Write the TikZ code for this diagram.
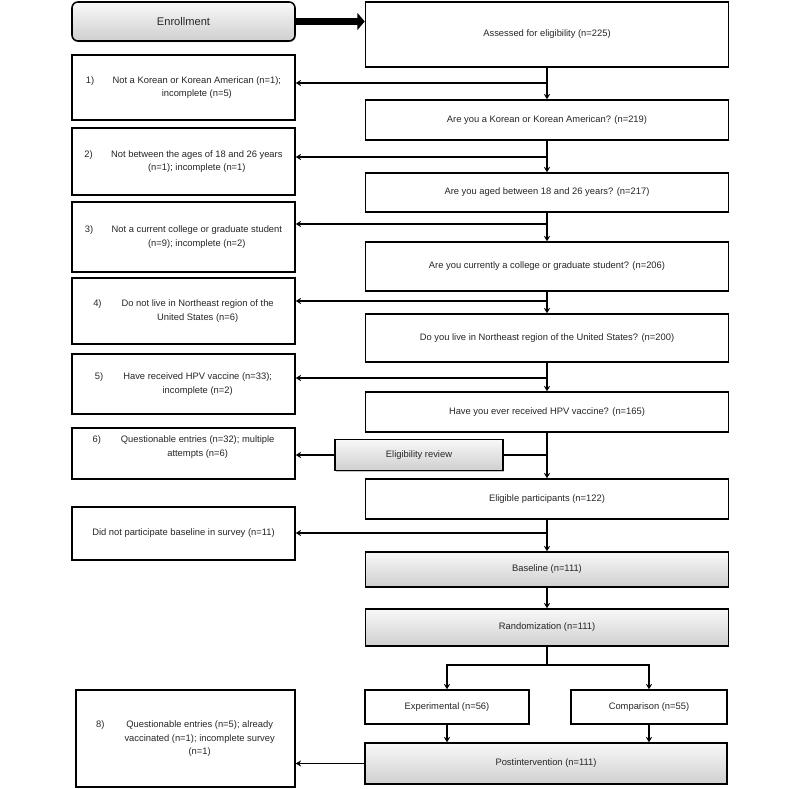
\documentclass[tikz,border=0pt]{standalone}
\usepackage{fontspec}
\setmainfont{Liberation Sans}
\usetikzlibrary{arrows.meta}
\usetikzlibrary{shadows}
\tikzset{>={Stealth[length=1.6mm,width=1.9mm]}}
\tikzset{
  box/.style={draw, line width=1.3pt, fill=white, align=center, inner sep=2pt,
    font=\fontsize{8}{11.5}\selectfont, text=black!85},
  mainbox/.style={box, minimum width=10.89cm},
  sidebox/.style={box, minimum width=6.69cm},
  graybox/.style={box, top color=gray!5, bottom color=gray!38,
    drop shadow={shadow xshift=0.7pt, shadow yshift=-1pt, opacity=0.45}},
  link/.style={line width=1.2pt, ->},
}

\begin{document}
\begin{tikzpicture}[x=0.03cm, y=-0.03cm]
    \useasboundingbox (0,0) rectangle (800,789);

    % right column
    \node[graybox, rounded corners=5pt, minimum width=6.69cm, minimum height=1.17cm,
      font=\fontsize{9.5}{11}\selectfont] (enroll) at (183.5,21.5) {Enrollment};
    \node[mainbox, minimum height=1.95cm] (assess) at (547,34.5) {Assessed for eligibility (n=225)};
    \node[mainbox, minimum height=1.2cm] (q1) at (547,120) {Are you a Korean or Korean American? (n=219)};
    \node[mainbox, minimum height=1.17cm] (q2) at (547,192.5) {Are you aged between 18 and 26 years? (n=217)};
    \node[mainbox, minimum height=1.47cm] (q3) at (547,266.5) {Are you currently a college or graduate student? (n=206)};
    \node[mainbox, minimum height=1.44cm] (q4) at (547,338) {Do you live in Northeast region of the United States? (n=200)};
    \node[mainbox, minimum height=1.2cm] (q5) at (547,412) {Have you ever received HPV vaccine? (n=165)};
    \node[mainbox, minimum height=1.2cm] (elig) at (547,499) {Eligible participants (n=122)};
    \node[graybox, minimum width=10.89cm, minimum height=1.05cm] (base) at (547,569.5) {Baseline (n=111)};
    \node[graybox, minimum width=10.89cm, minimum height=1.11cm] (rand) at (547,627.5) {Randomization (n=111)};
    \node[box, minimum width=4.92cm, minimum height=1.02cm] (exper) at (447,707) {Experimental (n=56)};
    \node[box, minimum width=4.68cm, minimum height=1.02cm] (comp) at (649,707) {Comparison (n=55)};
    \node[graybox, minimum width=10.86cm, minimum height=1.23cm] (post) at (546,763.5) {Postintervention (n=111)};
    \node[graybox, minimum width=5.04cm, minimum height=0.93cm] (review) at (419,455) {Eligibility review};

    % excluded
    \node[sidebox, minimum height=1.95cm] (ex1) at (183.5,87.5) {\begin{tabular}{@{}l@{\hspace{0.55cm}}c@{}}
      1) & Not a Korean or Korean American (n=1);\\ & incomplete (n=5)\end{tabular}};
    \node[sidebox, minimum height=2.01cm] (ex2) at (183.5,161.5) {\begin{tabular}{@{}l@{\hspace{0.55cm}}c@{}}
      2) & Not between the ages of 18 and 26 years\\ & (n=1); incomplete (n=1)\end{tabular}};
    \node[sidebox, minimum height=2.1cm] (ex3) at (183.5,237) {\begin{tabular}{@{}l@{\hspace{0.55cm}}c@{}}
      3) & Not a current college or graduate student\\ & (n=9); incomplete (n=2)\end{tabular}};
    \node[sidebox, minimum height=1.98cm] (ex4) at (183.5,311) {\begin{tabular}{@{}l@{\hspace{0.6cm}}c@{}}
      4) & Do not live in Northeast region of the\\ & United States (n=6)\end{tabular}};
    \node[sidebox, minimum height=1.8cm] (ex5) at (183.5,384) {\begin{tabular}{@{}l@{\hspace{0.6cm}}c@{}}
      5) & Have received HPV vaccine (n=33);\\ & incomplete (n=2)\end{tabular}};
    \node[sidebox, minimum height=1.53cm] (ex6) at (183.5,453.5) {\begin{tabular}{@{}l@{\hspace{0.6cm}}c@{}}
      6) & Questionable entries (n=32); multiple\\ & attempts (n=6)\\ & \end{tabular}};
    \node[sidebox, minimum height=1.59cm] (ex7) at (183.5,533.5) {Did not participate baseline in survey (n=11)};
    \node[sidebox, minimum width=6.57cm, minimum height=2.91cm] (ex8) at (185.5,738.5) {\begin{tabular}{@{}l@{\hspace{0.6cm}}c@{}}
      8) & Questionable entries (n=5); already\\ & vaccinated (n=1); incomplete survey\\ & (n=1)\end{tabular}};

    \draw[line width=6pt, -{Triangle[length=2.2mm,width=5mm]}] (enroll.east) -- (enroll.east -| assess.west);

    % main flow
    \draw[link] (assess) -- (q1);
    \draw[link] (q1) -- (q2);
    \draw[link] (q2) -- (q3);
    \draw[link] (q3) -- (q4);
    \draw[link] (q4) -- (q5);
    \draw[link] (q5) -- (elig);
    \draw[link] (elig) -- (base);
    \draw[link] (base) -- (rand);

    \coordinate (b1) at (547,83);
    \coordinate (b2) at (547,157);
    \coordinate (b3) at (547,224);
    \coordinate (b4) at (547,301);
    \coordinate (b5) at (547,378);
    \coordinate (b6) at (547,455);
    \coordinate (b7) at (547,533);
    \draw[link] (b1) -- (b1 -| ex1.east);
    \draw[link] (b2) -- (b2 -| ex2.east);
    \draw[link] (b3) -- (b3 -| ex3.east);
    \draw[link] (b4) -- (b4 -| ex4.east);
    \draw[link] (b5) -- (b5 -| ex5.east);
    \draw[line width=1.2pt] (b6) -- (review.east);
    \draw[link] (review.west) -- (review.west -| ex6.east);
    \draw[link] (b7) -- (b7 -| ex7.east);

    % arms
    \coordinate (split) at (547,665);
    \draw[line width=1.2pt] (rand) -- (split);
    \draw[link] (split) -| (exper);
    \draw[link] (split) -| (comp);
    \draw[link] (exper) -- (exper |- post.north);
    \draw[link] (comp) -- (comp |- post.north);
    \draw[link] (post) -- (post -| ex8.east);
\end{tikzpicture}
\end{document}
